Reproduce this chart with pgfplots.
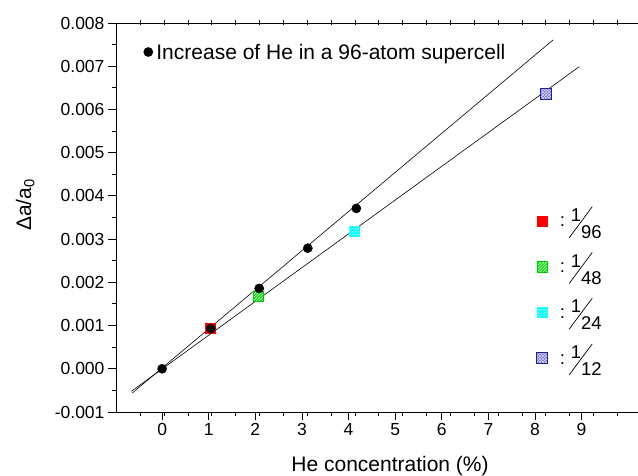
\documentclass[border=0pt]{standalone}
\usepackage{pgfplots}
\pgfplotsset{compat=1.18}
\usepackage{fontspec}
\setmainfont{Liberation Sans}
\usepackage{graphicx}
\usetikzlibrary{patterns}
\definecolor{grn}{RGB}{0,235,0}
\definecolor{cyn}{RGB}{0,255,255}
\definecolor{bfill}{RGB}{105,105,200}
\definecolor{bdraw}{RGB}{30,30,160}
\pgfdeclareplotmark{sqred}{\path[fill=red, draw=none] (-5.5pt,-5.5pt) rectangle (5.5pt,5.5pt);}
\pgfdeclareplotmark{sqgreen}{\path[fill=grn, draw=none] (-5.5pt,-5.5pt) rectangle (5.5pt,5.5pt);
  \path[pattern=north east lines, pattern color=white, draw=none] (-5.5pt,-5.5pt) rectangle (5.5pt,5.5pt);
  \path[draw=grn!85!black, line width=0.5pt] (-5.3pt,-5.3pt) rectangle (5.3pt,5.3pt);}
\pgfdeclareplotmark{sqcyan}{\path[fill=cyn, draw=none] (-5.5pt,-5.5pt) rectangle (5.5pt,5.5pt);
  \path[pattern=crosshatch dots, pattern color=white, draw=none] (-5.5pt,-5.5pt) rectangle (5.5pt,5.5pt);}
\pgfdeclareplotmark{sqblue}{\path[fill=bfill, draw=none] (-5.5pt,-5.5pt) rectangle (5.5pt,5.5pt);
  \path[pattern=crosshatch, pattern color=white!80!bfill, draw=none] (-5.5pt,-5.5pt) rectangle (5.5pt,5.5pt);
  \path[draw=bdraw, line width=1pt] (-5.2pt,-5.2pt) rectangle (5.2pt,5.2pt);}
\newcommand{\fr}[1]{:\hspace{4pt}\raisebox{-11pt}{\rotatebox{53.4}{\rule{38.6pt}{0.7pt}}}\hspace{-21.6pt}\raisebox{5.5pt}{1}\raisebox{-11.5pt}{#1}}
\pgfplotsset{myleg/.style={legend image code/.code={\draw[##1] plot coordinates {(0pt,0pt)};}}}
\begin{document}
\begin{tikzpicture}
\begin{axis}[name=ax, scale only axis, width=522pt, height=389pt,
  xmin=-0.99, xmax=10.21, ymin=-0.001, ymax=0.008,
  axis x line*=bottom, axis y line*=left,
  axis line style={line width=0.9pt, -},
  xtick={0,1,2,3,4,5,6,7,8,9},
  minor xtick={-0.47,0.042,...,9.8},
  ytick={-0.001,0,0.001,0.002,0.003,0.004,0.005,0.006,0.007,0.008},
  yticklabels={-0.001,0.000,0.001,0.002,0.003,0.004,0.005,0.006,0.007,0.008},
  minor ytick={-0.0005,0.0005,0.0015,0.0025,0.0035,0.0045,0.0055,0.0065,0.0075},
  scaled y ticks=false,
  tick align=outside, major tick length=8pt, minor tick length=4pt,
  every tick/.style={black, line width=0.9pt},
  tick label style={font=\fontsize{17.5}{20}\selectfont},
  /pgf/number format/assume math mode=true,
  xlabel={He concentration (\%)},
  ylabel={Δa/a\textsubscript{0}},
  xlabel style={font=\fontsize{21}{24}\selectfont, at={(axis description cs:0.525,-0.1542)}, anchor=base},
  ylabel style={font=\fontsize{21}{24}\selectfont, at={(axis description cs:-0.174,0.532)}, anchor=center},
  legend style={at={(0.805,0.550)}, anchor=north west, draw=none, fill=none, inner sep=0pt,
    column sep=12pt, font=\fontsize{18.5}{20}\selectfont,
    nodes={inner sep=0pt, text height=28.7pt, text depth=17pt}},
  legend cell align=left,
]
\addplot[black, line width=0.6pt, forget plot] coordinates {(-0.64,-0.00056) (8.39,0.00761)};
\addplot[black, line width=0.6pt, forget plot] coordinates {(-0.66,-0.00052) (8.95,0.00699)};
\addplot[only marks, mark=sqred, myleg] coordinates {(1.042,0.00093)};
\addlegendentry{\fr{96}}
\addplot[only marks, mark=sqgreen, myleg] coordinates {(2.06,0.00168)};
\addlegendentry{\fr{48}}
\addplot[only marks, mark=sqcyan, myleg] coordinates {(4.12,0.00317)};
\addlegendentry{\fr{24}}
\addplot[only marks, mark=sqblue, myleg] coordinates {(8.24,0.00636)};
\addlegendentry{\fr{12}}
\end{axis}
\begin{axis}[scale only axis, width=522pt, height=389pt,
  xmin=-0.99, xmax=10.21, ymin=-0.001, ymax=0.008,
  axis x line*=top, axis y line=none,
  axis line style={line width=0.9pt, -},
  xtick={-0.47,0.042,...,9.8}, xticklabels={},
  tick align=center, major tick length=5pt,
  every tick/.style={black, line width=0.9pt},
  legend style={at={(0.0527,0.9254)}, anchor=west, draw=none, fill=none, inner sep=0pt,
    column sep=3.5pt, font=\fontsize{21}{24}\selectfont,
    nodes={inner sep=0pt, text height=14.6pt, text depth=0pt}},
  legend cell align=left,
]
\addplot[only marks, mark=*, mark size=4.6pt, black, myleg] coordinates {(0,0) (1.042,0.00093) (2.083,0.00186) (3.125,0.00279) (4.167,0.00371)};
\addlegendentry{Increase of He in a 96-atom supercell}
\end{axis}
\pgfresetboundingbox
\path ([shift={(-116pt,-64pt)}]ax.south west) rectangle ([shift={(0pt,23pt)}]ax.north east);
\end{tikzpicture}
\end{document}
